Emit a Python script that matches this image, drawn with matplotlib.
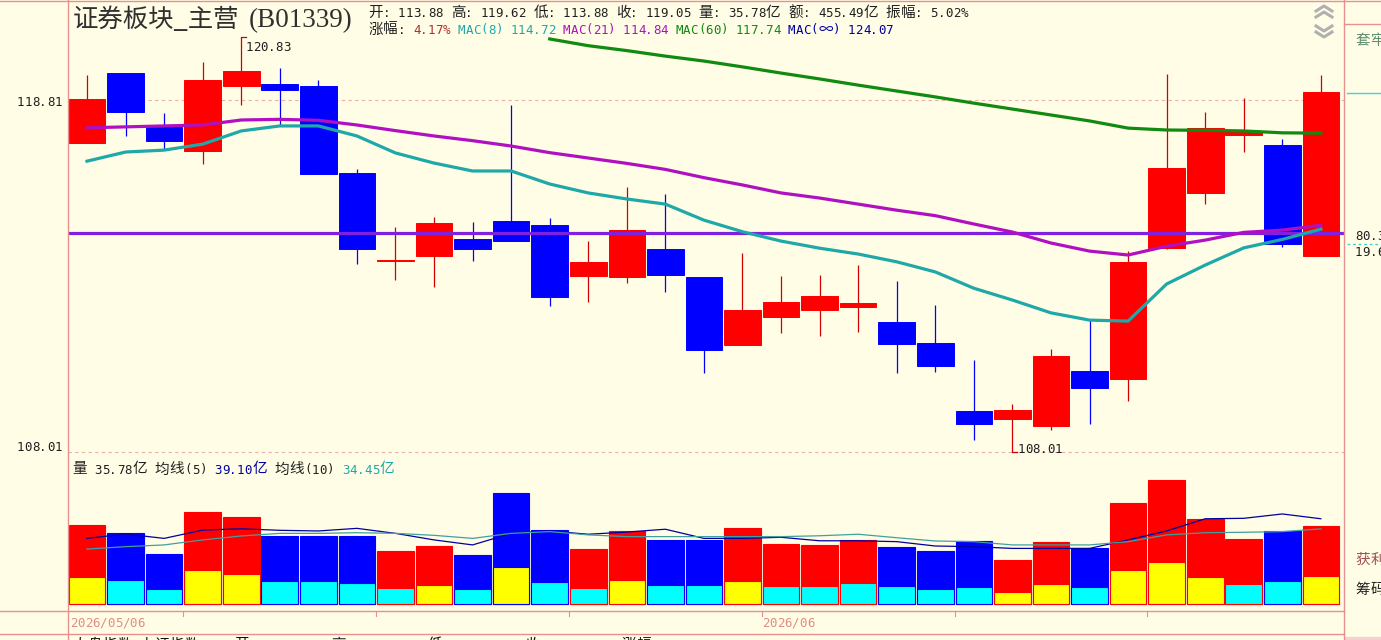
import numpy as np
import matplotlib
matplotlib.use('Agg')
import matplotlib.pyplot as plt
from matplotlib.transforms import blended_transform_factory

plt.rcParams['font.family'] = ['Noto Sans CJK SC', 'DejaVu Sans']

# daily candles, 2026/05/06 .. 2026/06
opens = [117.42, 119.67, 117.93, 117.17, 119.25, 119.31, 119.25, 116.47, 113.75, 113.90,
         114.41, 114.97, 114.85, 113.27, 113.24, 114.10, 113.24, 111.18, 112.02, 112.23,
         112.32, 111.87, 111.24, 109.21, 108.97, 108.76, 110.40, 110.16, 114.13, 115.85,
         117.69, 117.36, 113.88]
highs = [119.61, 119.67, 118.38, 120.03, 120.83, 119.83, 119.44, 116.60, 114.78, 115.10,
         114.94, 118.64, 115.06, 114.35, 116.03, 115.81, 113.24, 113.98, 113.27, 113.30,
         113.61, 113.12, 112.39, 110.73, 109.41, 111.06, 111.93, 114.04, 119.64, 118.41,
         118.86, 117.55, 119.62]
lows = [117.42, 117.65, 117.23, 116.76, 118.64, 118.00, 116.44, 113.64, 113.15, 112.94,
        113.73, 114.35, 112.36, 112.48, 113.06, 112.80, 110.34, 111.18, 111.53, 111.44,
        111.56, 110.34, 110.37, 108.35, 108.01, 108.65, 108.82, 109.50, 114.10, 115.50,
        117.14, 114.16, 113.88]
closes = [118.83, 118.41, 117.49, 119.44, 119.74, 119.12, 116.44, 114.10, 113.78, 114.91,
          114.10, 114.35, 112.63, 113.70, 114.69, 113.30, 111.03, 112.23, 112.48, 112.66,
          112.45, 111.21, 110.55, 108.82, 109.24, 110.85, 109.89, 113.70, 116.63, 117.90,
          117.80, 114.26, 119.05]

mac8 = [116.85, 117.14, 117.20, 117.39, 117.81, 117.97, 117.97, 117.65, 117.11, 116.79,
        116.54, 116.54, 116.13, 115.85, 115.66, 115.50, 115.00, 114.64, 114.35, 114.13,
        113.95, 113.71, 113.40, 112.90, 112.54, 112.15, 111.93, 111.90, 113.03, 113.61,
        114.14, 114.40, 114.72]
mac21 = [117.91, 117.94, 117.97, 118.00, 118.16, 118.18, 118.15, 118.00, 117.82, 117.65,
         117.50, 117.33, 117.12, 116.95, 116.78, 116.59, 116.33, 116.10, 115.85, 115.69,
         115.50, 115.31, 115.14, 114.88, 114.63, 114.29, 114.04, 113.92, 114.19, 114.38,
         114.62, 114.69, 114.84]
mac60_start = 12
mac60 = [120.78, 120.56, 120.40, 120.22, 120.06, 119.87, 119.67, 119.48, 119.28,
         119.09, 118.90, 118.70, 118.51, 118.32, 118.13, 117.90, 117.84, 117.83, 117.81,
         117.75, 117.74]
cost_line = 114.60
price_ticks = [118.81, 108.01]

# volume (亿)
vol = [36.2, 32.6, 22.9, 42.2, 39.9, 31.2, 31.2, 31.2, 24.3, 26.6, 22.5, 50.9, 33.9, 25.2,
       33.5, 29.4, 29.4, 34.9, 27.5, 27.1, 29.4, 26.1, 24.3, 28.9, 20.2, 28.4, 25.7, 46.3,
       56.9, 39.0, 29.8, 33.5, 35.78]
vol_low = [12.4, 11.0, 6.9, 15.6, 13.8, 10.6, 10.6, 9.6, 7.3, 8.7, 6.9, 17.0, 10.1, 7.3,
           11.0, 8.7, 8.7, 10.6, 8.3, 8.3, 9.6, 8.3, 6.9, 7.8, 5.5, 9.2, 7.8, 15.6, 19.3,
           12.4, 9.2, 10.6, 12.8]
vol_low_kind = list('YCCYYCCCCYCYCCYCCYCCCCCCYYCYYYCCY')
vol_ma5 = [30.1, 32.1, 30.1, 33.9, 34.5, 33.8, 33.5, 34.7, 32.4, 29.4, 27.1, 32.4, 33.5, 32.0,
           33.0, 34.3, 30.1, 30.1, 30.6, 29.0, 29.0, 28.6, 26.6, 26.3, 25.5, 25.5, 25.5, 29.4,
           33.5, 39.1, 39.3, 41.3, 39.10]
vol_ma10 = [25.2, 26.3, 27.1, 29.4, 31.2, 32.4, 32.4, 32.7, 32.4, 31.5, 30.1, 32.4, 33.2, 31.7,
            30.9, 30.9, 30.9, 30.9, 30.9, 31.3, 32.0, 30.4, 28.9, 28.6, 27.1, 27.1, 27.1, 28.6,
            31.7, 32.7, 32.9, 33.2, 34.45]

week_ticks = [2.5, 7.5, 12.5, 17.5, 22.5, 27.5]
date_labels = ['2026/05/06', '2026/06']
date_pos = [-0.45, 17.5]

title_cn = '证券板块_主营'
title_code = '(B01339)'
info1 = '开: 113.88 高: 119.62 低: 113.88 收: 119.05 量: 35.78亿 额: 455.49亿 振幅: 5.02%'
chg = '4.17%'
mac_texts = ['MAC(8) 114.72', 'MAC(21) 114.84', 'MAC(60) 117.74', 'MAC(∞) 124.07']
vol_texts = ['量 35.78亿 均线(5) ', '39.10亿', ' 均线(10) ', '34.45亿']
bottom_items = ['大盘指数', '[上证指数]', '[开]', '[高]', '[低]', '[收]', '[涨幅]']
bottom_x = [72, 132, 227, 323, 420, 517, 614]

W, H = 1381, 640
bg = '#fffde6'
pink = '#e89090'
RED, BLUE = '#ff0000', '#0000ff'
TEAL, MAG, GRN, PUR, NAVY = '#1fa8a8', '#b010c0', '#108a10', '#8020e0', '#0000a0'
DARK = '#202020'

fig = plt.figure(figsize=(W / 100, H / 100), dpi=100)
fig.patch.set_facecolor(bg)


def box(x0, y0, x1, y1):
    return [x0 / W, 1 - y1 / H, (x1 - x0) / W, (y1 - y0) / H]


ax = fig.add_axes(box(68, 0, 1344, 458))
axv = fig.add_axes(box(68, 458, 1344, 611))
ov = fig.add_axes([0, 0, 1, 1], zorder=5)
ov.set_xlim(0, W)
ov.set_ylim(H, 0)
ov.axis('off')
ov.patch.set_alpha(0)

n = len(closes)
x = np.arange(n)
up = [c >= o for o, c in zip(opens, closes)]
cols = [RED if u else BLUE for u in up]
wcols = ['#d00000' if u else BLUE for u in up]

# price panel
ax.set_yscale('log')
ax.vlines(x, lows, highs, colors=wcols, linewidth=0.9, zorder=2)
bot = np.minimum(opens, closes)
hgt = np.abs(np.array(closes) - np.array(opens))
ax.bar(x, hgt, bottom=bot, width=0.95, color=cols, edgecolor=cols, linewidth=0.7, zorder=3)
for p in price_ticks:
    ax.axhline(p, color='#e8b0a8', lw=0.8, ls=(0, (3, 3)), zorder=1)
ax.axhline(cost_line, color=PUR, lw=2.3, zorder=4)
ax.plot(x, mac8, color=TEAL, lw=2.3, zorder=5)
ax.plot(x, mac21, color=MAG, lw=2.3, zorder=5)
ax.plot(x[mac60_start:], mac60, color=GRN, lw=2.3, zorder=5)
ax.set_xlim(-0.493, 32.60)
ax.set_ylim(107.83, 122.06)
ax.axis('off')

# volume panel
low_colors = ['#ffff00' if k == 'Y' else '#00ffff' for k in vol_low_kind]
axv.bar(x, vol, width=0.95, color=cols, edgecolor=cols, linewidth=0.8, zorder=2)
axv.bar(x, vol_low, width=0.95, color=low_colors, edgecolor=cols, linewidth=0.8, zorder=3)
axv.plot(x, vol_ma5, color=NAVY, lw=0.9, zorder=4)
axv.plot(x, vol_ma10, color='#40a0a0', lw=0.9, zorder=4)
axv.set_xlim(-0.493, 32.60)
axv.set_ylim(-3.21, 66.97)
axv.axis('off')


def mono(x0, base, parts, unit=7.5, asz=9, csz=10.5):
    u = 0
    for s, c in parts:
        for ch in s:
            wide = ord(ch) > 0x2000
            w = 2 if wide else 1
            if ch != ' ':
                ov.text(x0 + (u + w / 2) * unit, base, ch, ha='center', va='baseline', color=c,
                        fontsize=csz if wide else asz,
                        family=['Noto Sans CJK SC', 'DejaVu Sans'] if wide else 'DejaVu Sans Mono')
            u += w


def px(axis, xv, yv):
    a, b = axis.transData.transform((xv, yv))
    return a, H - b


# frame
ov.plot([0, W], [0.5, 0.5], color=pink, lw=1)
ov.plot([68.5, 68.5], [0, H], color=pink, lw=1)
ov.plot([1344.5, 1344.5], [0, H], color=pink, lw=1)
ov.plot([0, 1344], [611, 611], color=pink, lw=1)
ov.plot([0, 1344], [634, 634], color=pink, lw=1)
ov.plot([1344, W], [24, 24], color=pink, lw=1)
ov.fill_between([1345, W], 637, 640, color='#f6d0d0')

bt = blended_transform_factory(axv.transData, ov.transData)
for t in week_ticks:
    ov.plot([t, t], [611, 616], transform=bt, color=pink, lw=0.8)
for lab, pos in zip(date_labels, date_pos):
    mono(px(axv, pos, 0)[0], 627, [(lab, '#e48a84')])

# title and headers
ov.text(73, 27, title_cn, fontsize=18.3, color='#303030', va='baseline', family=['Noto Sans CJK SC'])
ov.text(249, 27, title_code, fontsize=19.5, color='#303030', va='baseline', family=['Liberation Serif'])
mono(368, 17, [(info1, DARK)])
mono(368, 33.5, [('涨幅: ', DARK), (chg, '#b03030'), (' ', DARK), (mac_texts[0], TEAL), (' ', DARK),
                 (mac_texts[1], MAG), (' ', DARK), (mac_texts[2], GRN), (' ', DARK), (mac_texts[3], NAVY)])
mono(72, 473.5, [(vol_texts[0], DARK), (vol_texts[1], NAVY), (vol_texts[2], DARK), (vol_texts[3], TEAL)])

# price labels
for p in price_ticks:
    yy = px(ax, 0, p)[1]
    base = yy + 6 if p == max(price_ticks) else yy - 1
    mono(17, base, [('%.2f' % p, DARK)])

# high / low markers
ih = int(np.argmax(highs))
hx, hy = px(ax, ih, highs[ih])
ov.plot([hx, hx + 5], [hy, hy], color='#d00000', lw=0.9)
mono(hx + 4, hy + 13.5, [('%.2f' % highs[ih], DARK)])
il = int(np.argmin(lows))
lx, ly = px(ax, il, lows[il])
ov.plot([lx, lx + 5], [ly, ly], color='#d00000', lw=0.9)
mono(lx + 5, ly + 1, [('%.2f' % lows[il], DARK)])

# right side panel
mono(1355, 45, [('套牢', '#5f8f70')])
ov.plot([1347, W], [93, 93], color='#40d0e0', lw=1)
mono(1355, 240, [('80.3', DARK)])
ov.plot([1347, W], [244, 244], color='#40d0e0', lw=1, ls=(0, (2, 2)))
mono(1355, 255.5, [('19.6', DARK)])
mono(1355, 564, [('获利', '#a05050')])
mono(1355, 594, [('筹码', DARK)])

# scroll chevrons
for yc in (8, 14):
    ov.plot([1316, 1324, 1332], [yc + 3, yc - 2, yc + 3], color='#b0b0b0', lw=2.2)
for yc in (29, 35):
    ov.plot([1316, 1324, 1332], [yc - 3, yc + 2, yc - 3], color='#b0b0b0', lw=2.2)

# bottom strip (cut off by the window edge)
for s, bx in zip(bottom_items, bottom_x):
    mono(bx, 649, [(s, '#101010')])

fig.savefig('out.png', dpi=100, facecolor=bg)
